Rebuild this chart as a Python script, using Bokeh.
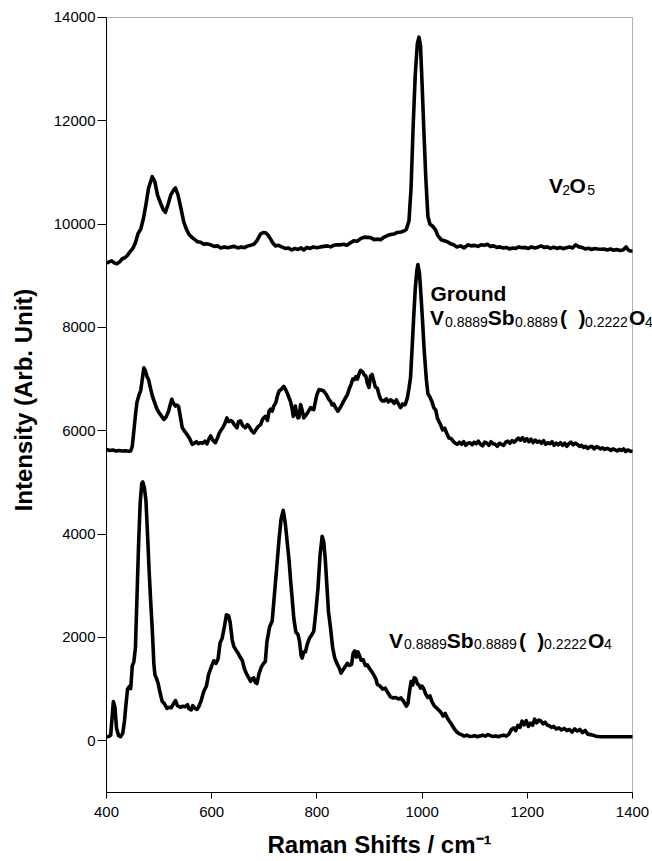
from bokeh.plotting import figure
from bokeh.models import Label, Range1d, FixedTicker, BoxAnnotation
from bokeh.embed import file_html
from bokeh.resources import INLINE

# ---------------- data ----------------
v2o5_x = [400,405,410,415,420,425,430,435,440,445,450,455,460,465,470,475,480,487,492,497,503,508,512,517,522,527,531,536,541,547,552,557,563,568,573,579,585,590,598,605,611,617,624,630,637,643,650,656,662,668,674,680,686,693,698,702,707,712,716,721,727,733,740,746,752,758,764,770,775,781,787,793,800,807,813,820,826,832,838,845,851,857,864,870,877,883,890,896,902,909,915,921,928,934,940,947,953,960,966,970,975,979,983,987,991,994,997,1000,1003,1007,1011,1015,1020,1025,1030,1036,1042,1048,1054,1060,1066,1073,1080,1087,1093,1100,1106,1112,1118,1124,1130,1136,1142,1148,1154,1160,1166,1172,1178,1184,1190,1196,1202,1208,1214,1220,1226,1232,1238,1244,1250,1256,1262,1268,1274,1280,1286,1292,1298,1304,1310,1316,1322,1328,1334,1340,1346,1352,1358,1364,1370,1376,1382,1388,1392,1396,1400]
v2o5_y = [9245,9270,9290,9250,9235,9270,9330,9350,9400,9470,9530,9640,9820,9900,10100,10380,10700,10920,10820,10560,10400,10280,10230,10380,10560,10650,10700,10560,10330,10040,9900,9800,9740,9700,9660,9650,9610,9620,9600,9570,9580,9540,9560,9545,9560,9570,9540,9560,9545,9575,9590,9610,9680,9810,9840,9835,9790,9710,9640,9580,9590,9560,9530,9540,9500,9530,9510,9540,9500,9550,9530,9560,9545,9560,9570,9580,9560,9590,9600,9600,9610,9590,9640,9680,9670,9720,9750,9745,9740,9700,9710,9700,9750,9780,9800,9810,9840,9850,9870,9900,10060,10700,11900,12900,13500,13620,13450,12700,11900,10900,10150,10000,9960,9900,9780,9700,9680,9660,9620,9600,9560,9580,9540,9600,9580,9590,9570,9600,9590,9610,9570,9580,9550,9560,9540,9550,9520,9540,9530,9560,9545,9550,9530,9560,9540,9555,9580,9550,9560,9530,9555,9530,9550,9525,9545,9560,9540,9600,9560,9550,9520,9535,9510,9530,9520,9515,9520,9500,9520,9495,9510,9490,9500,9560,9500,9480,9480]

ground_x = [400,406,412,418,424,430,436,442,446,449,452,455,458,462,465,468,471,474,477,480,483,487,491,496,500,505,509,513,518,521,524,527,531,534,537,540,544,548,553,558,563,567,571,575,579,583,587,591,595,598,602,607,611,614,617,621,625,629,632,636,639,643,648,651,655,659,664,668,672,676,680,684,688,693,697,702,706,709,712,715,718,722,725,728,732,737,741,744,747,750,753,755,757,759,762,764,766,769,772,775,779,783,788,791,794,797,800,804,808,813,818,822,826,829,832,836,840,844,848,851,855,858,861,865,868,871,874,877,880,883,887,890,893,896,899,902,905,908,911,915,918,921,924,928,932,936,940,943,947,951,955,959,963,966,968,972,975,978,981,984,987,990,992,995,998,1001,1004,1008,1011,1015,1019,1022,1026,1029,1032,1035,1039,1043,1047,1051,1055,1059,1063,1067,1071,1075,1079,1083,1087,1091,1095,1099,1103,1107,1111,1115,1119,1123,1127,1131,1135,1139,1143,1147,1151,1155,1159,1163,1167,1171,1175,1179,1183,1187,1191,1195,1199,1203,1207,1211,1215,1219,1223,1227,1231,1235,1239,1243,1247,1251,1255,1259,1263,1267,1271,1275,1279,1283,1287,1291,1295,1299,1303,1307,1311,1315,1319,1323,1327,1331,1335,1339,1343,1347,1351,1355,1359,1363,1367,1371,1375,1379,1383,1387,1391,1395,1400]
ground_y = [5640,5620,5630,5610,5620,5610,5615,5605,5610,5700,6000,6300,6560,6700,6780,7000,7220,7160,7050,6990,6850,6680,6560,6420,6350,6280,6220,6260,6380,6500,6610,6540,6480,6500,6470,6300,6060,6000,5930,5850,5740,5760,5790,5750,5770,5760,5800,5750,5850,5900,5820,5770,5860,5950,6000,6060,6140,6250,6180,6200,6180,6120,6060,6180,6190,6100,6060,6120,6070,6000,5960,6020,6080,6120,6230,6280,6200,6380,6420,6380,6480,6550,6680,6770,6800,6860,6790,6720,6640,6560,6420,6280,6420,6480,6300,6250,6260,6510,6400,6250,6300,6360,6450,6420,6410,6560,6700,6800,6790,6770,6700,6620,6570,6500,6520,6440,6380,6440,6520,6580,6650,6700,6800,6900,7000,6990,7050,7000,7100,7170,7140,7080,7060,6920,6840,7060,7090,6970,6850,6820,6700,6620,6580,6580,6620,6560,6600,6580,6530,6600,6520,6450,6520,6500,6510,6640,6820,7030,7600,8200,8750,9100,9220,9050,8600,8100,7550,7000,6720,6650,6560,6450,6400,6250,6180,6120,6020,6050,5950,5860,5850,5800,5760,5740,5780,5740,5790,5720,5760,5770,5730,5780,5750,5800,5740,5710,5780,5760,5720,5790,5750,5740,5700,5760,5740,5720,5780,5800,5760,5810,5780,5820,5860,5820,5870,5800,5850,5790,5840,5770,5820,5780,5800,5760,5810,5740,5770,5750,5790,5720,5760,5730,5770,5720,5760,5700,5750,5780,5730,5760,5740,5700,5720,5680,5700,5660,5690,5700,5650,5690,5680,5650,5670,5640,5660,5650,5620,5650,5630,5610,5640,5620,5650,5600,5630,5610,5600]

vsb_x = [400,404,408,411,413,416,419,423,427,431,434,437,440,443,446,449,452,455,458,461,464,467,469,472,475,478,481,484,487,490,492,495,498,502,506,510,515,519,523,527,531,535,540,545,550,554,557,561,564,568,572,575,580,585,590,594,599,604,608,612,616,620,624,628,632,635,639,642,646,650,654,658,662,666,670,674,677,680,683,686,690,694,698,702,705,710,715,719,724,728,732,736,740,743,747,750,753,756,760,764,767,770,772,775,778,782,786,790,794,798,802,806,810,813,816,819,822,826,830,834,838,842,846,850,854,858,862,866,869,872,875,878,881,884,888,892,896,900,904,908,912,915,920,925,930,935,940,945,950,955,960,965,970,973,976,979,982,985,988,991,994,997,1000,1003,1007,1011,1015,1019,1023,1027,1031,1035,1040,1044,1048,1052,1056,1060,1065,1070,1075,1080,1085,1090,1095,1100,1105,1110,1115,1120,1125,1130,1135,1140,1145,1150,1155,1160,1165,1170,1174,1178,1182,1186,1190,1194,1198,1202,1206,1210,1214,1218,1222,1226,1230,1234,1238,1242,1246,1250,1255,1260,1265,1270,1275,1280,1285,1290,1295,1300,1305,1310,1315,1320,1325,1330,1335,1340,1400]
vsb_y = [80,85,110,500,760,650,250,100,80,150,370,700,1000,1050,1010,1450,1530,1800,2800,3800,4600,4980,5010,4900,4650,4000,3300,2700,2150,1500,1280,1210,1120,920,760,720,630,650,640,710,780,680,650,670,660,700,620,600,680,630,610,650,780,960,1060,1280,1420,1550,1500,1580,1900,1990,2200,2440,2420,2300,1950,1830,1760,1700,1620,1560,1400,1300,1230,1150,1200,1220,1130,1110,1300,1420,1490,1540,1920,2200,2320,2800,3400,3900,4300,4460,4200,3900,3500,3100,2750,2380,2100,2060,1920,1650,1600,1720,1720,1880,1990,2050,2120,2500,2950,3600,3960,3850,3500,3000,2500,2180,1800,1600,1500,1420,1310,1380,1440,1500,1460,1480,1700,1740,1620,1720,1650,1560,1570,1460,1470,1400,1340,1280,1200,1090,1060,1000,1020,930,850,830,840,810,830,760,670,720,950,1150,1080,1220,1200,1100,1080,1020,1060,1010,900,840,870,750,680,640,600,560,480,530,440,380,320,250,180,140,120,90,110,85,90,100,80,95,110,90,120,100,85,95,80,100,110,90,130,220,250,200,300,260,380,310,390,280,340,300,420,350,400,380,330,360,300,290,260,280,230,250,210,240,200,220,170,230,190,220,160,200,130,120,110,90,85,80,80]

x_ticks = [400, 600, 800, 1000, 1200, 1400]
y_ticks = [0, 2000, 4000, 6000, 8000, 10000, 12000, 14000]
x_lo, x_hi = 400, 1400
y_lo, y_hi = -1000, 14000

FONT = "Liberation Sans"

p = figure(width=652, height=861, output_backend="svg", toolbar_location=None,
           x_range=Range1d(x_lo, 1438), y_range=Range1d(y_lo, 14193.5),
           min_border_left=106, min_border_right=0, min_border_top=7, min_border_bottom=69)
p.grid.visible = False
p.outline_line_color = None
p.background_fill_color = "white"
p.border_fill_color = "white"

p.add_layout(BoxAnnotation(left=x_lo, right=x_hi, bottom=y_lo, top=y_hi,
                           fill_alpha=0, line_color="black", line_width=1))

for xs, ys in [(v2o5_x, v2o5_y), (ground_x, ground_y), (vsb_x, vsb_y)]:
    p.line(xs, ys, line_color="black", line_width=3.6, line_join="round")

p.xaxis.ticker = FixedTicker(ticks=x_ticks)
p.yaxis.ticker = FixedTicker(ticks=y_ticks)
p.xaxis.bounds = (x_lo, x_hi)
p.yaxis.bounds = (y_lo, y_hi)
for ax in (p.xaxis[0], p.yaxis[0]):
    ax.minor_tick_line_color = None
    ax.major_tick_in = 0
    ax.axis_line_color = "black"
    ax.major_tick_line_color = "black"
    ax.major_label_text_font = FONT
    ax.major_label_text_font_size = "15px"
    ax.major_label_text_color = "black"
p.xaxis.major_tick_out = 6
p.yaxis.major_tick_out = 9
p.xaxis.major_label_standoff = 8
p.yaxis.major_label_standoff = 2

p.yaxis.axis_label = "Intensity (Arb. Unit)"
p.xaxis.axis_label = "Raman Shifts / cm\u207b\u00b9"
for ax in (p.xaxis[0], p.yaxis[0]):
    ax.axis_label_text_font = FONT
    ax.axis_label_text_font_size = "24px"
    ax.axis_label_text_font_style = "bold"
    ax.axis_label_text_color = "black"
p.yaxis.axis_label_standoff = 14
p.xaxis.axis_label_standoff = 11


def piece(x, y, text, dx, big=True, dy=0, size=None):
    lab = Label(x=x, y=y, text=text, x_offset=dx, y_offset=dy,
                text_font=FONT,
                text_font_size=size if size else ("21px" if big else "14px"),
                text_font_style="bold" if big else "normal",
                text_color="black", text_align="left", text_baseline="alphabetic")
    p.add_layout(lab)


def formula(x, y):
    parts = [("V", 0, True), ("0.8889", 15, False), ("Sb", 57.7, True), ("0.8889", 85, False),
             ("(", 130, True), (")", 148.4, True), ("0.2222", 155, False), ("O", 199, True), ("4", 215, False)]
    for t, dx, big in parts:
        piece(x, y, t, dx, big, 0 if big else -4)


# V2O5 label
for t, dx, big in [("V", 0, True), ("2", 13.4, False), ("O", 20.7, True), ("5", 38.4, False)]:
    piece(1241, 10742, t, dx, big, 0 if big else -4)

# Ground label
piece(1016, 8663, "Ground", 0, True)
formula(1015, 8190)

# bottom label
formula(937, 1944)

open("out.html", "w").write(file_html(p, INLINE))
